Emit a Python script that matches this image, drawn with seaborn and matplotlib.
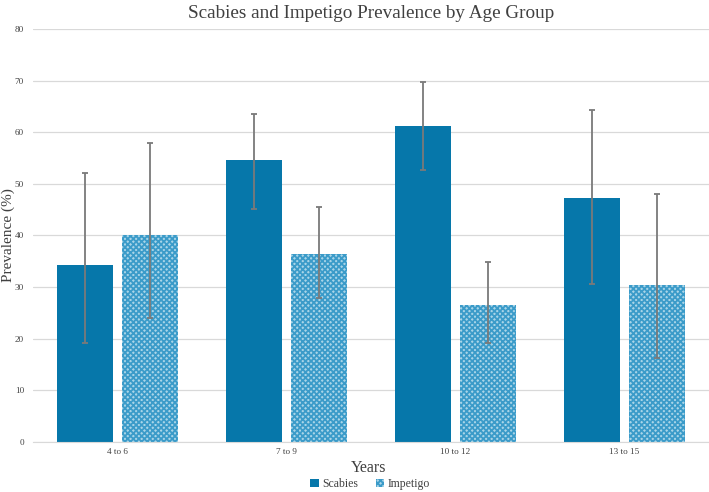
import numpy as np
import pandas as pd
import matplotlib
matplotlib.use('Agg')
import matplotlib.pyplot as plt
import seaborn as sns
from matplotlib.patches import Patch

# values
age_groups = ['4 to 6', '7 to 9', '10 to 12', '13 to 15']
scabies = [34.3, 54.6, 61.2, 47.2]
scabies_low = [19.2, 45.1, 52.6, 30.6]
scabies_high = [52.2, 63.6, 69.7, 64.4]
impetigo = [40.1, 36.4, 26.5, 30.5]
impetigo_low = [24.0, 27.8, 19.2, 16.3]
impetigo_high = [57.9, 45.6, 34.9, 48.1]

df = pd.DataFrame({
    'Age': age_groups * 2,
    'Condition': ['Scabies'] * 4 + ['Impetigo'] * 4,
    'Prevalence': scabies + impetigo,
})

sns.set_style('white')
plt.rcParams['font.family'] = ['Liberation Serif', 'DejaVu Serif']
plt.rcParams['hatch.linewidth'] = 1.3

dark_blue = '#0677aa'
light_fill = '#a9d5e8'
hatch_col = '#3b9bc9'

fig = plt.figure(figsize=(7.09, 4.92), dpi=100)
ax = fig.add_axes([33 / 709, 50 / 492, 676 / 709, 413 / 492])

sns.barplot(data=df, x='Age', y='Prevalence', hue='Condition', order=age_groups,
            hue_order=['Scabies', 'Impetigo'], palette=[dark_blue, light_fill],
            saturation=1, width=0.78, gap=0.15, errorbar=None, legend=False,
            ax=ax, zorder=2)

# patches: first 4 scabies, then 4 impetigo
bars = ax.patches
for i, p in enumerate(bars[:8]):
    p.set_linewidth(0)
    if i >= 4:
        p.set_hatch('xxxxxx')
        p.set_edgecolor(hatch_col)

# asymmetric error bars
for i in range(4):
    for p, mid, lo, hi in [(bars[i], scabies[i], scabies_low[i], scabies_high[i]),
                           (bars[i + 4], impetigo[i], impetigo_low[i], impetigo_high[i])]:
        xc = p.get_x() + p.get_width() / 2
        ax.errorbar(xc, mid, yerr=[[mid - lo], [hi - mid]], fmt='none',
                    ecolor='#7a7a7a', elinewidth=1.3, capsize=2.5, capthick=1.3, zorder=3)

ax.set_ylim(0, 80)
ax.set_yticks(range(0, 81, 10))
ax.set_xlim(-0.5, 3.5)
ax.yaxis.grid(True, color='#d9d9d9', linewidth=0.9, zorder=0)
ax.set_axisbelow(True)
for s in ['top', 'right', 'left']:
    ax.spines[s].set_visible(False)
ax.spines['bottom'].set_color('#d9d9d9')
ax.tick_params(axis='both', length=0, labelsize=6.6, colors='#404040')
ax.tick_params(axis='y', pad=6.5)
ax.tick_params(axis='x', pad=4)

ax.set_title('Scabies and Impetigo Prevalence by Age Group', fontsize=13.8,
             color='#404040', pad=8)
ax.set_xlabel('Years', fontsize=11.5, color='#404040')
ax.xaxis.set_label_coords(0.497, -0.043)
ax.set_ylabel('Prevalence (%)', fontsize=11, color='#404040')
ax.yaxis.set_label_coords(-0.027, 0.5)

handles = [Patch(facecolor=dark_blue, linewidth=0),
           Patch(facecolor=light_fill, edgecolor=hatch_col, hatch='xxxxxx', linewidth=0)]
fig.legend(handles, ['Scabies', 'Impetigo'], loc='lower center', ncol=2,
           bbox_to_anchor=(0.522, -0.018), frameon=False, fontsize=8.5,
           handlelength=0.7, handleheight=0.7, handletextpad=0.3, columnspacing=1.5,
           labelcolor='#404040')

fig.savefig('out.png', dpi=100)
